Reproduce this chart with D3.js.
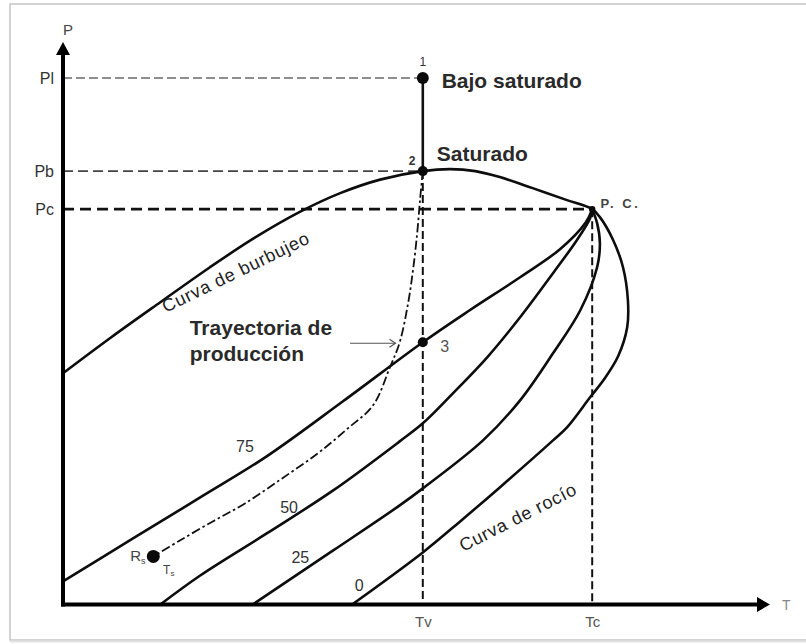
<!DOCTYPE html>
<html><head><meta charset="utf-8">
<script src="https://cdn.jsdelivr.net/npm/d3@7/dist/d3.min.js"></script>
<style>
body{margin:0;background:#fff}
svg{display:block}
text{font-family:"Liberation Sans",Arial,Helvetica,sans-serif}
</style>
</head><body>
<svg id="c" width="806" height="644"></svg>
<script>
// ---------- data (T, P in arbitrary diagram units) ----------
const tMax = 101, pMax = 112.4;
const pressureTickLabels = ["Pl", "Pb", "Pc"];
const pressureTickValues = [105.2, 86.6, 79.0];
const tempTickLabels = ["Tv", "Tc"];
const tempTickValues = [51.4, 75.6];
const criticalPoint = [75.6, 79.0];

const bubbleCurve = [[0,46.2],[6.7,53.2],[13.9,60.4],[21.0,67.4],[27.4,73.3],[33.9,78.5],[39.6,82.2],[45.3,84.9],[51.4,86.6],[55.3,87.0],[58.9,86.6],[62.4,85.4],[67.1,83.2],[72.0,80.8],[75.6,79.0]];
const dewCurve = [[75.6,79.0],[76.7,77.4],[78.6,72.8],[80.0,67.4],[80.7,60.8],[80.6,55.4],[79.3,49.6],[77.3,45.0],[75.3,41.4],[72.0,35.4],[70.0,32.8],[62.4,23.4],[56.9,16.8],[51.4,10.4],[41.3,0]];
const quality75 = [[0,4.6],[10.0,13.2],[19.6,21.4],[29.1,29.6],[40.0,40.6],[51.4,52.4],[58.1,58.8],[65.3,65.4],[71.0,71.0],[74.7,76.4],[75.6,79.0]];
const quality50 = [[13.9,0],[19.6,5.8],[29.1,14.2],[38.6,22.8],[48.1,32.6],[51.4,36.2],[55.7,42.2],[60.6,49.4],[65.3,57.4],[70.0,66.2],[73.4,72.8],[75.3,77.2],[75.6,79.0]];
const quality25 = [[27.1,0],[38.6,10.8],[48.1,19.8],[51.4,23.2],[60.0,32.8],[65.3,40.8],[70.0,50.2],[73.9,58.8],[76.3,67.4],[76.7,72.2],[76.3,76.2],[75.6,79.0]];
const productionPath = [[51.4,86.6],[51.0,80.8],[50.6,74.2],[50.0,66.8],[49.3,60.2],[48.1,52.4],[46.7,47.4],[44.3,39.8],[40.7,35.2],[36.4,30.2],[31.3,25.2],[26.0,20.2],[21.4,16.6],[16.7,12.8],[12.9,9.6]];
const statePoints = [[51.4,105.2],[51.4,86.6],[51.4,52.4],[12.9,9.6]];
const stateRadii = [6, 5, 5, 6.5];
const stateNumbers = ["1", "2", "3"];
const stateNumberPos = [[51.4,107.6],[49.4,87.9],[53.9,50.4]];
const qualityLabels = ["75", "50", "25", "0"];
const qualityLabelPos = [[26.0,31.6],[32.3,19.4],[33.9,9.4],[42.3,3.8]];

// ---------- scales ----------
const svg = d3.select("#c");
const x = d3.scaleLinear().domain([0, tMax]).range([63, 770]);
const y = d3.scaleLinear().domain([0, pMax]).range([604.5, 42]);
const line = d3.line().x(d => x(d[0])).y(d => y(d[1])).curve(d3.curveCatmullRom.alpha(0.5));

svg.append("rect").attr("width", 806).attr("height", 644).attr("fill", "#fff");
// frame
svg.append("rect").attr("x", 10).attr("y", 4).attr("width", 810).attr("height", 636)
  .attr("fill", "none").attr("stroke", "#c4c4c4").attr("stroke-width", 1.5);
svg.append("line").attr("x1", 10).attr("x2", 806).attr("y1", 641.5).attr("y2", 641.5)
  .attr("stroke", "#e2e2e2").attr("stroke-width", 2);

// reference dashed lines
const refStyles = [
  {c: "#6a6a6a", w: 1.5, d: "9,4"},
  {c: "#444", w: 1.6, d: "10,5"},
  {c: "#111", w: 2.6, d: "11,6"}
];
const refEnds = [tempTickValues[0], tempTickValues[0], criticalPoint[0]];
pressureTickValues.forEach((p, i) => {
  svg.append("line").attr("x1", x(0)).attr("x2", x(refEnds[i]))
    .attr("y1", y(p)).attr("y2", y(p))
    .attr("stroke", refStyles[i].c).attr("stroke-width", refStyles[i].w)
    .attr("stroke-dasharray", refStyles[i].d);
});
const vStarts = [pressureTickValues[1], criticalPoint[1]];
tempTickValues.forEach((t, i) => {
  svg.append("line").attr("x1", x(t)).attr("x2", x(t))
    .attr("y1", y(vStarts[i])).attr("y2", y(0))
    .attr("stroke", "#111").attr("stroke-width", 2).attr("stroke-dasharray", "8,4");
});

// envelope and quality lines
const curveG = svg.append("g").attr("fill", "none").attr("stroke", "#0d0d0d")
  .attr("stroke-width", 2.6).attr("stroke-linejoin", "round").attr("stroke-linecap", "round");
curveG.append("path").attr("d", line(bubbleCurve.concat(dewCurve.slice(1))));
[quality75, quality50, quality25].forEach(q => curveG.append("path").attr("d", line(q)));

// production path: 1 -> 2 solid, then dash-dot
svg.append("line").attr("x1", x(statePoints[0][0])).attr("x2", x(statePoints[1][0]))
  .attr("y1", y(statePoints[0][1])).attr("y2", y(statePoints[1][1]))
  .attr("stroke", "#111").attr("stroke-width", 2.6);
svg.append("path").attr("d", line(productionPath))
  .attr("fill", "none").attr("stroke", "#111").attr("stroke-width", 1.8)
  .attr("stroke-dasharray", "9,3,2.5,3");

// state points
statePoints.forEach((p, i) => {
  svg.append("circle").attr("cx", x(p[0])).attr("cy", y(p[1])).attr("r", stateRadii[i]).attr("fill", "#0a0a0a");
});
svg.append("circle").attr("cx", x(criticalPoint[0])).attr("cy", y(criticalPoint[1])).attr("r", 3.2).attr("fill", "#0a0a0a");

// axes
const yAxis = d3.axisLeft(y).tickValues(pressureTickValues)
  .tickFormat((d, i) => pressureTickLabels[i]).tickSize(0).tickPadding(9);
const gy = svg.append("g").attr("transform", `translate(${x(0)},0)`).call(yAxis);
gy.select(".domain").remove();
gy.selectAll("text").attr("font-size", 16).attr("fill", "#333").attr("font-family", "Liberation Sans, Arial");

const xAxis = d3.axisBottom(x).tickValues(tempTickValues)
  .tickFormat((d, i) => tempTickLabels[i]).tickSize(0).tickPadding(12);
const gx = svg.append("g").attr("transform", `translate(0,${y(0)})`).call(xAxis);
gx.select(".domain").remove();
gx.selectAll("text").attr("font-size", 15).attr("fill", "#555").attr("font-family", "Liberation Sans, Arial");

svg.append("line").attr("x1", x(0)).attr("x2", x(0)).attr("y1", y(0) + 2).attr("y2", y(pMax) + 10)
  .attr("stroke", "#000").attr("stroke-width", 4);
svg.append("line").attr("x1", x(0) - 2).attr("x2", x(tMax) - 10).attr("y1", y(0)).attr("y2", y(0))
  .attr("stroke", "#000").attr("stroke-width", 4);
svg.append("path").attr("fill", "#000")
  .attr("d", `M${x(0)},${y(pMax)} L${x(0) - 7},${y(pMax) + 13} L${x(0) + 7},${y(pMax) + 13} Z`);
svg.append("path").attr("fill", "#000")
  .attr("d", `M${x(tMax)},${y(0)} L${x(tMax) - 13},${y(0) - 7.5} L${x(tMax) - 13},${y(0) + 7.5} Z`);

svg.append("text").attr("x", x(0)).attr("y", y(pMax) - 7).attr("font-size", 15).attr("fill", "#444").text("P");
svg.append("text").attr("x", x(tMax) + 12).attr("y", y(0) + 5).attr("font-size", 14).attr("fill", "#888").text("T");

// state numbers
stateNumbers.forEach((s, i) => {
  svg.append("text").attr("x", x(stateNumberPos[i][0])).attr("y", y(stateNumberPos[i][1]))
    .attr("text-anchor", i === 0 ? "middle" : "start")
    .attr("font-size", i === 2 ? 16 : 12).attr("font-weight", i === 1 ? "bold" : "normal")
    .attr("fill", i === 2 ? "#555" : "#333").text(s);
});

// quality labels
qualityLabels.forEach((s, i) => {
  svg.append("text").attr("x", x(qualityLabelPos[i][0])).attr("y", y(qualityLabelPos[i][1]))
    .attr("text-anchor", "middle").attr("dominant-baseline", "central")
    .attr("font-size", 16).attr("fill", "#333").text(s);
});

// bold annotations
const bold = (t, p, s) => svg.append("text").attr("x", x(t)).attr("y", y(p))
  .attr("font-size", 21).attr("font-weight", "bold").attr("fill", "#2a2a2a").text(s);
bold(54.1, 103.2, "Bajo saturado");
bold(53.4, 88.6, "Saturado");
bold(18.1, 53.8, "Trayectoria de");
bold(18.1, 48.6, "producción");

svg.append("text").attr("x", x(76.8)).attr("y", y(79.3)).attr("font-size", 13)
  .attr("font-weight", "bold").attr("letter-spacing", 2.5).attr("fill", "#444").text("P. C.");

// rotated curve names
const rot = (t, p, a, s) => svg.append("text")
  .attr("transform", `translate(${x(t)},${y(p)}) rotate(${a})`)
  .attr("text-anchor", "middle").attr("dominant-baseline", "central")
  .attr("font-size", 18).attr("letter-spacing", 0.8).attr("fill", "#222").text(s);
rot(24.7, 66.4, -26, "Curva de burbujeo");
rot(65.0, 17.4, -27, "Curva de rocío");

// separator labels
const sep = svg.append("g").attr("fill", "#444");
const r = sep.append("text").attr("x", x(9.6)).attr("y", y(8.6)).attr("font-size", 15);
r.append("tspan").text("R");
r.append("tspan").attr("font-size", 9).attr("dy", 3).text("s");
const ts = sep.append("text").attr("x", x(14.3)).attr("y", y(6.0)).attr("font-size", 12);
ts.append("tspan").text("T");
ts.append("tspan").attr("font-size", 8).attr("dy", 2).text("s");

// arrow to production path
const ay = y(52.2);
svg.append("line").attr("x1", x(41.0)).attr("x2", x(47.5)).attr("y1", ay).attr("y2", ay)
  .attr("stroke", "#555").attr("stroke-width", 1.2);
svg.append("path").attr("fill", "none").attr("stroke", "#555").attr("stroke-width", 1.2)
  .attr("d", `M${x(47.5) - 6},${ay - 4} L${x(47.5)},${ay} L${x(47.5) - 6},${ay + 4}`);
</script>
</body></html>
